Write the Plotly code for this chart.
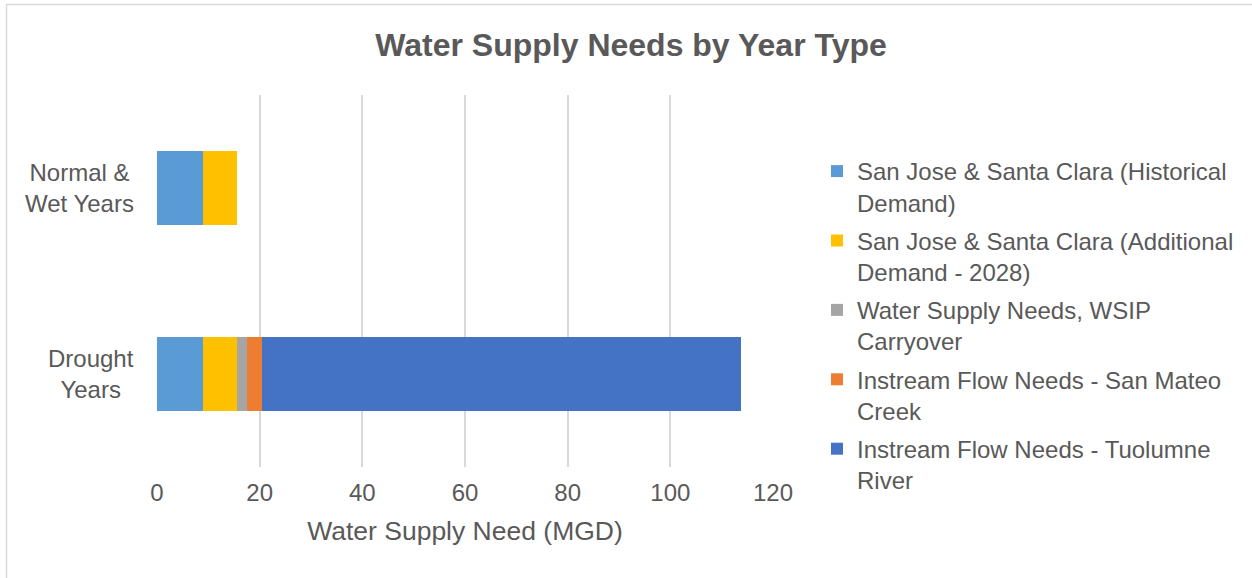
import plotly.graph_objects as go

categories = ["Drought Years", "Normal & Wet Years"]
category_labels = ["Drought<br>Years", "Normal &<br>Wet Years"]
series_names = [
    "San Jose & Santa Clara (Historical<br>Demand)",
    "San Jose & Santa Clara (Additional<br>Demand - 2028)",
    "Water Supply Needs, WSIP<br>Carryover",
    "Instream Flow Needs - San Mateo<br>Creek",
    "Instream Flow Needs - Tuolumne<br>River",
]
historical = [9.0, 9.0]
additional = [6.5, 6.5]
carryover = [2.1, 0]
san_mateo = [2.9, 0]
tuolumne = [93.2, 0]
series_values = [historical, additional, carryover, san_mateo, tuolumne]
colors = ["#5B9BD5", "#FFC000", "#A5A5A5", "#ED7D31", "#4472C4"]
x_ticks = [0, 20, 40, 60, 80, 100, 120]

FONT = "Liberation Sans, Arial, sans-serif"
TXT = "#595959"

fig = go.Figure()
for i, (name, vals, col) in enumerate(zip(series_names, series_values, colors)):
    fig.add_trace(go.Bar(
        y=categories, x=vals, name=name, orientation="h",
        legendgroup=f"g{i}",
        marker=dict(color=col, line=dict(width=0)),
    ))

W, H = 1252, 578
L, R, T, B = 157, 479, 95, 111
pw, ph = W - L - R, H - T - B

def px_x(p):
    return (p - L) / pw

def px_y(p):
    return (H - B - p) / ph

for cat, lab in zip(categories, category_labels):
    fig.add_annotation(
        x=px_x(136), xref="paper", y=cat, yref="y", text=lab,
        showarrow=False, xanchor="right", yanchor="middle", align="center",
        font=dict(family=FONT, size=24, color=TXT),
    )

fig.update_layout(
    width=W, height=H,
    margin=dict(l=L, r=R, t=T, b=B, pad=0),
    paper_bgcolor="white", plot_bgcolor="white",
    barmode="stack", bargap=0.597,
    title=dict(
        text="<b>Water Supply Needs by Year Type</b>",
        x=631 / W, xref="container", xanchor="center",
        y=1 - 45 / H, yref="container", yanchor="middle",
        font=dict(family=FONT, size=32, color=TXT),
    ),
    xaxis=dict(
        range=[0, 120], tickvals=x_ticks, ticktext=[str(v) for v in x_ticks],
        showgrid=True, gridcolor="#D9D9D9", gridwidth=1.5,
        zeroline=True, zerolinecolor="rgba(0,0,0,0)",
        showline=False, ticks="", ticklabelstandoff=9,
        tickfont=dict(family=FONT, size=24, color=TXT),
        title=dict(text="Water Supply Need (MGD)", standoff=16,
                   font=dict(family=FONT, size=26.5, color=TXT)),
    ),
    yaxis=dict(
        categoryorder="array", categoryarray=categories,
        showticklabels=False, showgrid=False, zeroline=False, showline=False,
        ticks="",
    ),
    legend=dict(
        x=px_x(817), y=px_y(149), xanchor="left", yanchor="top",
        traceorder="grouped", tracegroupgap=4, valign="top", itemwidth=30,
        font=dict(family=FONT, size=24, color=TXT),
        bgcolor="rgba(0,0,0,0)",
    ),
    shapes=[dict(
        type="rect", xref="paper", yref="paper",
        x0=px_x(6.5), x1=px_x(1262), y0=px_y(590), y1=px_y(4.5),
        line=dict(color="#D9D9D9", width=1.5), fillcolor="rgba(0,0,0,0)",
        layer="below",
    )],
)

fig.write_html("out.html")
